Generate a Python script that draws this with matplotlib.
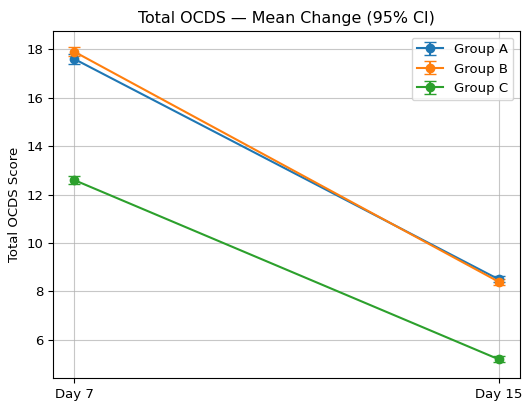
import matplotlib.pyplot as plt
import numpy as np

days = ["Day 7", "Day 15"]
groups = ["Group A", "Group B", "Group C"]
means_a = [17.6, 8.5]
means_b = [17.9, 8.4]
means_c = [12.6, 5.2]
ci_a = [0.22, 0.12]
ci_b = [0.2, 0.12]
ci_c = [0.16, 0.12]

x = np.arange(len(days))

fig = plt.figure(figsize=(5.23, 4.03), dpi=100)
ax = fig.add_axes([0.1013, 0.062, 0.893, 0.861])
for name, m, ci in zip(groups, [means_a, means_b, means_c], [ci_a, ci_b, ci_c]):
    ax.errorbar(x, m, yerr=ci, marker='o', capsize=4, label=name)

ax.set_xticks(x)
ax.set_xticklabels(days, fontsize=9.5)
ax.tick_params(axis='y', labelsize=9.5)
ax.set_ylabel("Total OCDS Score", fontsize=9.5)
ax.set_title("Total OCDS — Mean Change (95% CI)", fontsize=11.4)
ax.grid(True, alpha=0.7)
ax.legend(loc='upper right', fontsize=9.5)

plt.savefig("out.png", dpi=100)
